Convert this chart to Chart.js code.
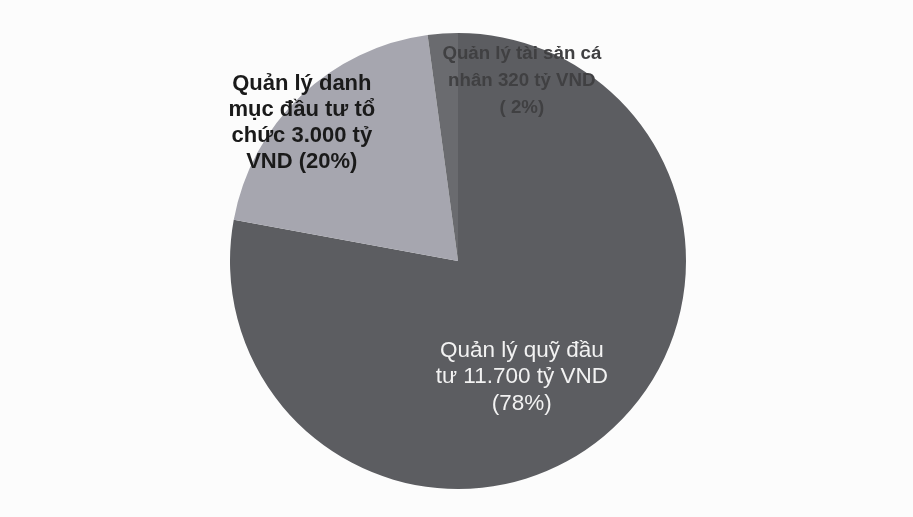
<!DOCTYPE html>
<html>
<head>
<meta charset="utf-8">
<script src="https://cdn.jsdelivr.net/npm/chart.js@4.4.1/dist/chart.umd.min.js"></script>
<style>
  html, body { margin: 0; padding: 0; background: #fcfcfc; }
  #wrap { width: 913px; height: 517px; position: relative; }
</style>
</head>
<body>
<div id="wrap"><canvas id="pie" width="913" height="517"></canvas></div>
<script>
// values in tỷ VND, clockwise from 12 o'clock
const CATEGORIES = ["Quản lý quỹ đầu tư", "Quản lý danh mục đầu tư tổ chức", "Quản lý tài sản cá nhân"];
const VALUES     = [11700, 3000, 320];
const LABEL_LINES = [
  ["Quản lý quỹ đầu", "tư 11.700 tỷ VND", "(78%)"],
  ["Quản lý danh", "mục đầu tư tổ", "chức 3.000 tỷ", "VND (20%)"],
  ["Quản lý tài sản cá", "nhân 320 tỷ VND", "( 2%)"],
];
const COLORS = ["#5c5d61", "#a6a6af", "#6a6b6f"];

// label look and anchor (relative to pie centre, in radius units)
const LABEL_STYLE = [
  { font: "22.5px 'Liberation Sans', Arial", color: "#f2f2f2", dx: 0.28, dy: 0.51, lh: 26.5 },
  { font: "bold 22px 'Liberation Sans', Arial", color: "#1a1a1a", dx: -0.685, dy: -0.605, lh: 26 },
  { font: "bold 18.7px 'Liberation Sans', Arial", color: "#404042", dx: 0.28, dy: -0.79, lh: 27 },
];

const sliceLabels = {
  id: "sliceLabels",
  afterDatasetsDraw(chart) {
    const ctx = chart.ctx;
    const meta = chart.getDatasetMeta(0);
    meta.data.forEach((arc, i) => {
      const { x, y, outerRadius } = arc.getProps(["x", "y", "outerRadius"], true);
      const s = LABEL_STYLE[i];
      const lines = LABEL_LINES[i];
      const cx = x + s.dx * outerRadius;
      const cy = y + s.dy * outerRadius;
      ctx.save();
      ctx.font = s.font;
      ctx.fillStyle = s.color;
      ctx.textAlign = "center";
      ctx.textBaseline = "middle";
      const top = cy - (lines.length - 1) * s.lh / 2;
      lines.forEach((t, k) => ctx.fillText(t, cx, top + k * s.lh));
      ctx.restore();
    });
  }
};

new Chart(document.getElementById("pie"), {
  type: "pie",
  data: {
    labels: CATEGORIES,
    datasets: [{
      data: VALUES,
      backgroundColor: COLORS,
      borderWidth: 0,
    }],
  },
  options: {
    responsive: false,
    animation: false,
    layout: { padding: { top: 33, bottom: 28, left: 230, right: 227 } },
    plugins: {
      legend: { display: false },
      tooltip: { enabled: false },
    },
  },
  plugins: [sliceLabels],
});
</script>
</body>
</html>
